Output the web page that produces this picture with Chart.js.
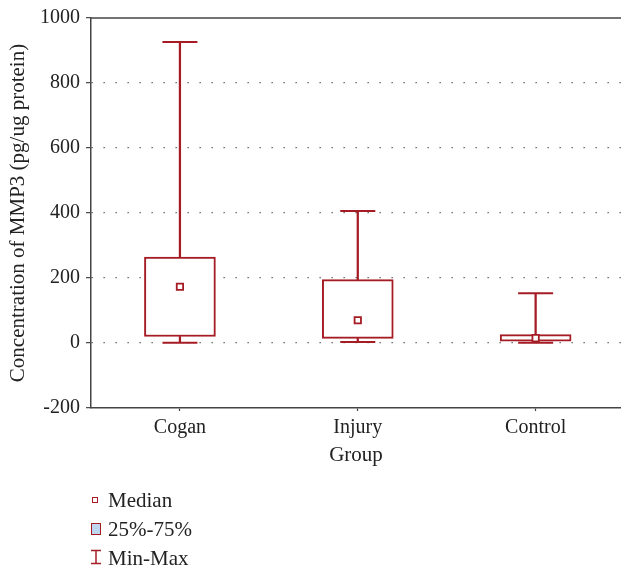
<!DOCTYPE html>
<html lang="en">
<head>
    <meta charset="UTF-8">
    <title>MMP3 box plot</title>
    <script src="https://cdn.jsdelivr.net/npm/chart.js"></script>
    <style>
        body { margin: 0; background: #fff; }
        #wrap { position: relative; width: 621px; height: 569px; }
        .legend { position: absolute; left: 0; top: 0; font-family: "Liberation Serif", serif; font-size: 21px; color: #222; }
        .item { position: absolute; left: 108px; white-space: nowrap; line-height: 22px; }
        .icon { position: absolute; box-sizing: border-box; }
    </style>
</head>
<body>
<div id="wrap">
    <canvas id="myChart" width="621" height="569"></canvas>
    <div class="legend">
        <span class="icon" style="left:92px;top:497px;width:6px;height:6px;border:1.5px solid #a51c24;"></span>
        <span class="item" style="top:489px;">Median</span>
        <span class="icon" style="left:91px;top:523px;width:10px;height:12px;border:1.5px solid #a51c24;background:#bcd7ef;"></span>
        <span class="item" style="top:518px;">25%-75%</span>
        <svg class="icon" style="left:90px;top:549px;" width="12" height="16">
            <line x1="1" y1="1.5" x2="11" y2="1.5" stroke="#a51c24" stroke-width="1.5"/>
            <line x1="6" y1="1.5" x2="6" y2="14.5" stroke="#a51c24" stroke-width="1.5"/>
            <line x1="1" y1="14.5" x2="11" y2="14.5" stroke="#a51c24" stroke-width="1.5"/>
        </svg>
        <span class="item" style="top:547px;">Min-Max</span>
    </div>
</div>

<script>
    // values
    const groups = ['Cogan', 'Injury', 'Control'];
    const minVals = [1, 3, 1];
    const q1Vals = [20, 14, 6];
    const medianVals = [173, 70, 15];
    const q3Vals = [264, 195, 26];
    const maxVals = [926, 406, 153];
    const yTicks = [-200, 0, 200, 400, 600, 800, 1000];

    const red = '#a51c24';
    const axisColor = '#444';
    const tickFont = { family: '"Liberation Serif", serif', size: 20 };
    const titleFont = { family: '"Liberation Serif", serif', size: 21 };

    const pos = groups.map((g, i) => i + 1);

    // top frame line of the plot
    const frameTop = {
        id: 'frameTop',
        afterDraw(chart) {
            const a = chart.chartArea, ctx = chart.ctx;
            ctx.save();
            ctx.strokeStyle = axisColor;
            ctx.lineWidth = 1.5;
            ctx.beginPath();
            ctx.moveTo(a.left, a.top);
            ctx.lineTo(a.right, a.top);
            ctx.stroke();
            ctx.restore();
        }
    };

    const ctx = document.getElementById('myChart').getContext('2d');
    new Chart(ctx, {
        type: 'bar',
        data: {
            datasets: [
                {
                    label: 'Median',
                    type: 'scatter',
                    data: pos.map((x, i) => ({ x: x, y: medianVals[i] })),
                    pointStyle: 'rect',
                    radius: 4.5,
                    borderWidth: 1.8,
                    borderColor: red,
                    backgroundColor: '#fff',
                    order: 0
                },
                {
                    label: 'Caps',
                    type: 'scatter',
                    data: pos.map((x, i) => ({ x: x, y: maxVals[i] }))
                        .concat(pos.map((x, i) => ({ x: x, y: minVals[i] }))),
                    pointStyle: 'line',
                    radius: 17.5,
                    borderWidth: 2,
                    borderColor: red,
                    order: 1
                },
                {
                    label: 'Upper whisker',
                    data: pos.map((x, i) => ({ x: x, y: [q3Vals[i], maxVals[i]] })),
                    backgroundColor: red,
                    borderWidth: 0,
                    barThickness: 1.6,
                    grouped: false,
                    order: 2
                },
                {
                    label: 'Lower whisker',
                    data: pos.map((x, i) => ({ x: x, y: [minVals[i], q1Vals[i]] })),
                    backgroundColor: red,
                    borderWidth: 0,
                    barThickness: 1.6,
                    grouped: false,
                    order: 2
                },
                {
                    label: '25%-75%',
                    data: pos.map((x, i) => ({ x: x, y: [q1Vals[i], q3Vals[i]] })),
                    backgroundColor: '#fff',
                    borderColor: red,
                    borderWidth: 2,
                    borderSkipped: false,
                    barThickness: 71,
                    grouped: false,
                    order: 3
                }
            ]
        },
        options: {
            responsive: false,
            animation: false,
            events: [],
            layout: { autoPadding: false, padding: { top: 16, right: 0, bottom: 99.6, left: 0 } },
            plugins: {
                legend: { display: false },
                tooltip: { enabled: false }
            },
            scales: {
                x: {
                    type: 'linear',
                    min: 0.5,
                    max: 3.48,
                    offset: false,
                    afterBuildTicks: (scale) => { scale.ticks = pos.map(v => ({ value: v })); },
                    afterFit: (scale) => {
                        scale.height = 61.4;
                        scale.paddingLeft = 0;
                        scale.paddingRight = 0;
                    },
                    ticks: {
                        callback: (value) => groups[value - 1],
                        font: tickFont,
                        color: '#222',
                        padding: 5,
                        maxRotation: 0
                    },
                    grid: {
                        offset: false,
                        drawOnChartArea: false,
                        tickLength: 3,
                        tickColor: axisColor,
                        tickWidth: 1.2
                    },
                    border: { color: axisColor, width: 1.5 },
                    title: {
                        display: true,
                        text: 'Group',
                        font: titleFont,
                        color: '#222',
                        padding: { top: 4, bottom: 1 }
                    }
                },
                y: {
                    min: -200,
                    max: 1000,
                    afterBuildTicks: (scale) => { scale.ticks = yTicks.map(v => ({ value: v })); },
                    afterFit: (scale) => { scale.width = 91; },
                    ticks: {
                        callback: (value) => String(value),
                        font: tickFont,
                        color: '#222',
                        padding: 6
                    },
                    grid: {
                        color: (c) => (c.tick && (c.tick.value === -200 || c.tick.value === 1000)) ? 'rgba(0,0,0,0)' : '#555',
                        lineWidth: 1.3,
                        tickLength: 5,
                        tickColor: axisColor,
                        tickWidth: 1.2
                    },
                    border: { color: axisColor, width: 1.5, dash: [1.3, 10.7], dashOffset: -12 },
                    title: {
                        display: true,
                        text: 'Concentration of MMP3 (pg/ug protein)',
                        font: titleFont,
                        color: '#222',
                        padding: { top: 6, bottom: 4 }
                    }
                }
            }
        },
        plugins: [frameTop]
    });
</script>
</body>
</html>
